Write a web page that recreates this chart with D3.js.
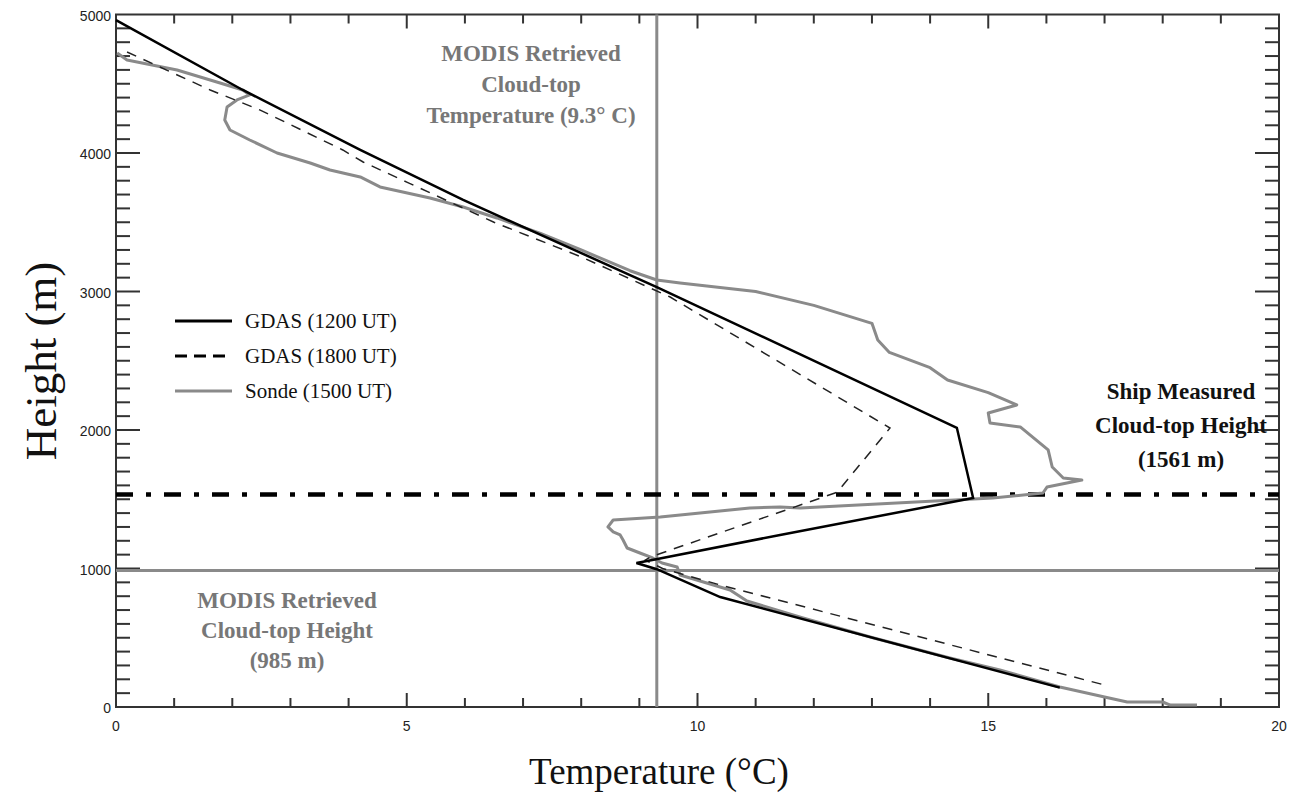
<!DOCTYPE html>
<html><head><meta charset="utf-8">
<script src="https://cdn.jsdelivr.net/npm/d3@7"></script>
<style>body{margin:0;background:#fff}</style>
</head><body>
<svg id="c" width="1289" height="793"></svg>
<script>
// ---- data ----
const xTicks = [0, 5, 10, 15, 20];
const yTicks = [0, 1000, 2000, 3000, 4000, 5000];
const gdas1200 = [[0,4960],[2.18,4455],[4.2,4022],[5.97,3661],[8.84,3119],[9.3,3032],[14.46,2016],[14.74,1509],[11.42,1242],[9.2,1060],[8.95,1040],[9.3,995],[10.39,794],[16.23,140]];
const gdas1800 = [[0.19,4729],[1.62,4455],[2.48,4310],[3.9,4022],[4.25,3935],[5.0,3790],[6.5,3500],[8.0,3250],[9.53,2960],[13.31,2014],[12.4,1550],[9.2,1085],[9.1,1060],[9.4,1000],[10.4,880],[17.0,159]];
const sonde = [[0.02,4722],[0.19,4671],[1.05,4599],[1.79,4505],[2.18,4455],[2.3,4419],[2.08,4383],[1.91,4332],[1.87,4238],[1.96,4166],[2.3,4094],[2.77,4000],[3.34,3928],[3.68,3877],[4.2,3827],[4.54,3755],[5.4,3675],[5.97,3610],[6.55,3531],[7.3,3420],[8.0,3300],[8.84,3150],[9.3,3083],[9.7,3061],[11.0,3000],[12.0,2900],[13.0,2770],[13.1,2650],[13.3,2560],[14.0,2450],[14.3,2361],[15.0,2270],[15.49,2181],[15.0,2123],[15.03,2050],[15.55,2022],[16.03,1856],[16.1,1733],[16.29,1653],[16.61,1639],[16.01,1588],[15.94,1545],[15.08,1509],[11.77,1437],[11.42,1444],[10.9,1437],[9.36,1372],[8.55,1350],[8.46,1300],[8.55,1264],[8.67,1242],[8.72,1206],[8.79,1148],[9.01,1112],[9.23,1076],[9.39,1040],[9.65,1011],[9.7,953],[10.56,845],[10.85,765],[11.8,645],[13.0,502],[14.34,354],[15.2,267],[16.23,144],[17.0,72],[17.39,36],[18.0,36],[18.13,14],[18.59,14]];
const modisTemp = 9.3;
const modisHeight = 985;
const shipHeight = 1535;
const legendLabels = ["GDAS (1200 UT)", "GDAS (1800 UT)", "Sonde (1500 UT)"];

// ---- layout ----
const svg = d3.select("#c");
const L = 116, R = 1279, T = 14.5, B = 707;
const x = d3.scaleLinear().domain([0, 20]).range([L, R]);
const y = d3.scaleLinear().domain([0, 5000]).range([B, T]);
const axisCol = "#333";
const gray = "#8a8a8a";

// frame
svg.append("rect").attr("x", L).attr("y", T).attr("width", R - L).attr("height", B - T)
  .attr("fill", "none").attr("stroke", axisCol).attr("stroke-width", 2);

// ticks
const xMinor = d3.range(0, 21, 1);
const yMinor = d3.range(0, 5001, 100);
const tg = svg.append("g").attr("stroke", axisCol).attr("stroke-width", 2);
xMinor.forEach(v => {
  const len = v % 5 === 0 ? 14 : 9;
  if (v === 0 || v === 20) return;
  tg.append("line").attr("x1", x(v)).attr("x2", x(v)).attr("y1", B).attr("y2", B - len);
  tg.append("line").attr("x1", x(v)).attr("x2", x(v)).attr("y1", T).attr("y2", T + len);
});
yMinor.forEach(v => {
  const len = v % 1000 === 0 ? 24 : 14;
  if (v === 0 || v === 5000) return;
  tg.append("line").attr("x1", L).attr("x2", L + len).attr("y1", y(v)).attr("y2", y(v));
  tg.append("line").attr("x1", R).attr("x2", R - len).attr("y1", y(v)).attr("y2", y(v));
});

// tick labels
svg.append("g").selectAll("text").data(xTicks).join("text")
  .attr("x", d => x(d)).attr("y", 731).attr("text-anchor", "middle")
  .attr("font-family", "Liberation Sans, Arial, sans-serif").attr("font-size", 14).attr("fill", "#222")
  .text(d => d);
svg.append("g").selectAll("text").data(yTicks).join("text")
  .attr("x", 111).attr("y", d => y(d) + 6).attr("text-anchor", "end")
  .attr("font-family", "Liberation Sans, Arial, sans-serif").attr("font-size", 14).attr("fill", "#222")
  .text(d => d);

// axis titles
svg.append("text").attr("x", 659).attr("y", 784).attr("text-anchor", "middle")
  .attr("font-family", "Liberation Serif, Times New Roman, serif").attr("font-size", 37).attr("fill", "#111")
  .text("Temperature (°C)");
svg.append("text").attr("transform", "translate(56,361) rotate(-90)").attr("text-anchor", "middle")
  .attr("font-family", "Liberation Serif, Times New Roman, serif").attr("font-size", 45).attr("fill", "#111")
  .text("Height (m)");

// reference lines
svg.append("line").attr("x1", x(modisTemp)).attr("x2", x(modisTemp)).attr("y1", T).attr("y2", B)
  .attr("stroke", gray).attr("stroke-width", 3);
svg.append("line").attr("x1", L).attr("x2", R).attr("y1", y(modisHeight)).attr("y2", y(modisHeight))
  .attr("stroke", gray).attr("stroke-width", 3);
svg.append("line").attr("x1", L).attr("x2", R).attr("y1", y(shipHeight)).attr("y2", y(shipHeight))
  .attr("stroke", "#000").attr("stroke-width", 4.5).attr("stroke-dasharray", "17,13,5,13");

// series
const line = d3.line().x(d => x(d[0])).y(d => y(d[1]));
svg.append("path").attr("d", line(sonde)).attr("fill", "none").attr("stroke", gray).attr("stroke-width", 3).attr("stroke-linejoin", "round");
svg.append("path").attr("d", line(gdas1800)).attr("fill", "none").attr("stroke", "#222").attr("stroke-width", 1.5).attr("stroke-dasharray", "10,8");
svg.append("path").attr("d", line(gdas1200)).attr("fill", "none").attr("stroke", "#000").attr("stroke-width", 2.5);

// annotations
function block(lines, cx, y0, dy, col) {
  const t = svg.append("text").attr("text-anchor", "middle")
    .attr("font-family", "Liberation Serif, Times New Roman, serif").attr("font-weight", "bold")
    .attr("font-size", 23).attr("fill", col);
  lines.forEach((s, i) => t.append("tspan").attr("x", cx).attr("y", y0 + i * dy).text(s));
}
block(["MODIS Retrieved", "Cloud-top", "Temperature (9.3° C)"], 531, 61, 31, "#777");
block(["Ship Measured", "Cloud-top Height", "(1561 m)"], 1181, 399, 34, "#111");
block(["MODIS Retrieved", "Cloud-top Height", "(985 m)"], 287, 608, 30, "#777");

// legend
const lg = svg.append("g");
const ly = [321, 356, 391];
const lstyles = [{c:"#000", w:3, d:null}, {c:"#000", w:3, d:"12,7"}, {c:gray, w:3, d:null}];
legendLabels.forEach((s, i) => {
  lg.append("line").attr("x1", 175).attr("x2", 232).attr("y1", ly[i]).attr("y2", ly[i])
    .attr("stroke", lstyles[i].c).attr("stroke-width", lstyles[i].w).attr("stroke-dasharray", lstyles[i].d);
  lg.append("text").attr("x", 245).attr("y", ly[i] + 7)
    .attr("font-family", "Liberation Serif, Times New Roman, serif").attr("font-size", 21).attr("fill", "#111")
    .text(s);
});
</script>
</body></html>
